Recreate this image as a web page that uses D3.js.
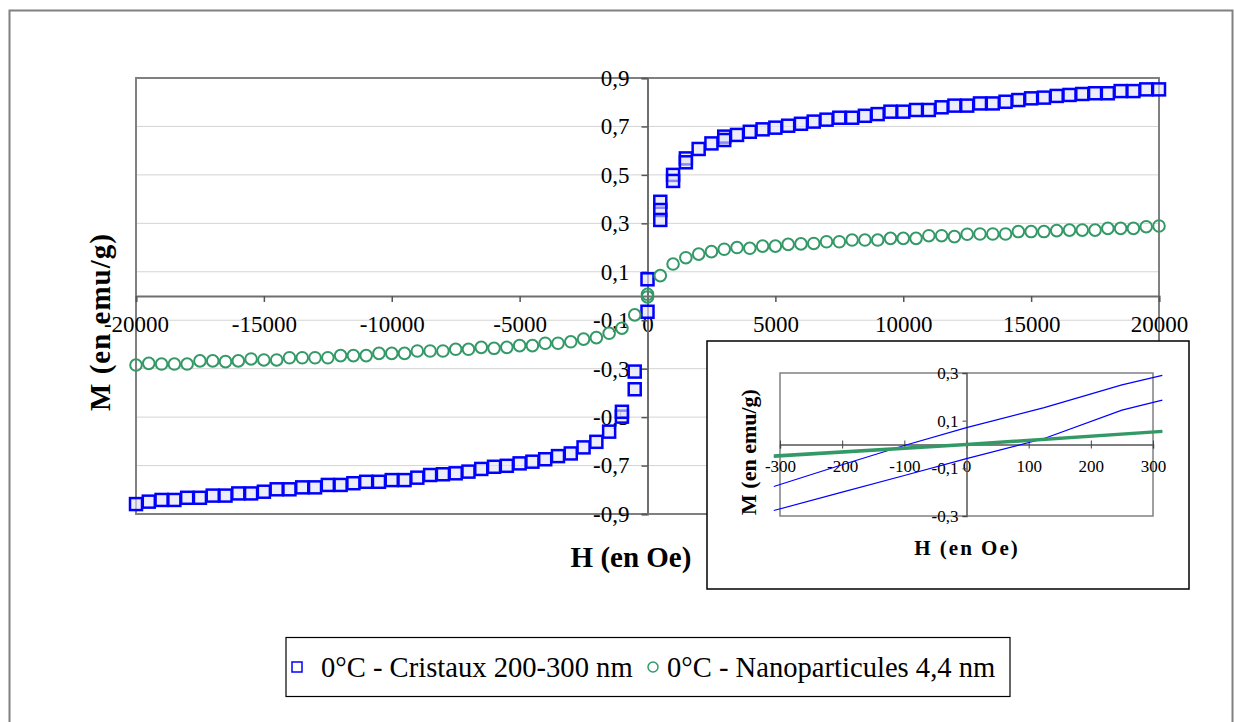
<!DOCTYPE html>
<html>
<head>
<meta charset="utf-8">
<script src="https://cdn.jsdelivr.net/npm/d3@7"></script>
<style>
  body { margin: 0; background: #fff; }
  svg text { font-family: "Liberation Serif", "Times New Roman", serif; fill: #000; }
</style>
</head>
<body>
<div id="chart"></div>
<script>
// champ H (Oe), valeurs positives; la branche negative utilise -H
var champ = [0, 500, 1000, 1500, 2000, 2500, 3000, 3500, 4000, 4500, 5000, 5500, 6000, 6500, 7000, 7500,
  8000, 8500, 9000, 9500, 10000, 10500, 11000, 11500, 12000, 12500, 13000, 13500, 14000, 14500, 15000,
  15500, 16000, 16500, 17000, 17500, 18000, 18500, 19000, 19500, 20000];

// 0°C - Cristaux 200-300 nm
var cristauxPlus = [0.069, 0.389, 0.50, 0.568, 0.607, 0.630, 0.658, 0.665, 0.678, 0.688, 0.695, 0.703, 0.711,
  0.720, 0.728, 0.736, 0.736, 0.744, 0.751, 0.761, 0.761, 0.768, 0.768, 0.779, 0.786, 0.786, 0.795, 0.795,
  0.802, 0.809, 0.816, 0.819, 0.826, 0.830, 0.834, 0.837, 0.837, 0.846, 0.846, 0.853, 0.853];
var cristauxMoins = [-0.065, -0.385, -0.498, -0.560, -0.602, -0.625, -0.650, -0.661, -0.674, -0.684, -0.691,
  -0.701, -0.705, -0.714, -0.725, -0.732, -0.736, -0.739, -0.750, -0.760, -0.760, -0.767, -0.767, -0.773,
  -0.780, -0.780, -0.790, -0.790, -0.798, -0.798, -0.808, -0.815, -0.815, -0.824, -0.824, -0.833, -0.833,
  -0.842, -0.842, -0.849, -0.859];
// points en plus pres de zero (autre branche du cycle)
var cristauxExtraH = [500, 500, 1000, 1500, 3000, -500, -1000];
var cristauxExtraM = [0.355, 0.314, 0.475, 0.552, 0.644, -0.312, -0.478];

// 0°C - Nanoparticules 4,4 nm
var nanoPlus = [0.007, 0.084, 0.132, 0.158, 0.173, 0.183, 0.193, 0.200, 0.197, 0.206, 0.206, 0.213, 0.215,
  0.217, 0.224, 0.224, 0.231, 0.231, 0.231, 0.238, 0.238, 0.238, 0.249, 0.249, 0.245, 0.255, 0.256, 0.256,
  0.256, 0.266, 0.266, 0.266, 0.270, 0.272, 0.272, 0.272, 0.279, 0.279, 0.279, 0.286, 0.289];
var nanoMoins = [-0.004, -0.078, -0.133, -0.154, -0.172, -0.178, -0.189, -0.195, -0.195, -0.205, -0.205,
  -0.212, -0.216, -0.212, -0.220, -0.220, -0.227, -0.227, -0.227, -0.237, -0.237, -0.237, -0.246, -0.246,
  -0.246, -0.255, -0.255, -0.255, -0.255, -0.264, -0.264, -0.260, -0.268, -0.271, -0.268, -0.268, -0.281,
  -0.281, -0.281, -0.278, -0.285];

// encart: zoom +-300 Oe
var encartH = [-310, -200, -100, 0, 125, 250, 315];
var encartCristauxHaut = [-0.176, -0.085, -0.004, 0.071, 0.155, 0.25, 0.29];
var encartCristauxBas = [-0.277, -0.20, -0.13, -0.059, 0.025, 0.144, 0.186];
var encartNanoH = [-310, 0, 315];
var encartNano1 = [-0.046, 0.003, 0.057];
var encartNano2 = [-0.052, -0.003, 0.053];

var xTicks = [-20000, -15000, -10000, -5000, 0, 5000, 10000, 15000, 20000];
var yTicks = [-0.9, -0.7, -0.5, -0.3, -0.1, 0.1, 0.3, 0.5, 0.7, 0.9];
var xTicksEncart = [-300, -200, -100, 0, 100, 200, 300];
var yTicksEncart = [-0.3, -0.1, 0.1, 0.3];

var legendLabels = ["0°C - Cristaux 200-300 nm", "0°C - Nanoparticules 4,4 nm"];

var blue = "#0000ff";
var green = "#339966";
var frGray = "#808080";
// tirets simples comme dans Excel (pas le signe moins unicode de d3)
function entier(v) { return String(v); }
function virgule(v) { return v.toFixed(1).replace(".", ","); }

function pairs(hs, ms, sign) {
  return hs.map(function(h, i) { return {h: sign * h, m: ms[i]}; });
}
var cristaux = pairs(champ, cristauxPlus, 1)
  .concat(pairs(champ, cristauxMoins, -1))
  .concat(pairs(cristauxExtraH, cristauxExtraM, 1));
var nano = pairs(champ, nanoPlus, 1).concat(pairs(champ, nanoMoins, -1));

var svg = d3.select("#chart").append("svg")
  .attr("width", 1234).attr("height", 722);

// cadre exterieur
svg.append("rect")
  .attr("x", 9.5).attr("y", 10.5).attr("width", 1223).attr("height", 720)
  .attr("fill", "#fff").attr("stroke", frGray).attr("stroke-width", 2);

// ---- graphique principal ----
var plot = {left: 136, top: 78, width: 1023, height: 436};
var x = d3.scaleLinear().domain([-20000, 20000]).range([plot.left, plot.left + plot.width]);
var y = d3.scaleLinear().domain([-0.9, 0.9]).range([plot.top + plot.height, plot.top]);

// grille
svg.append("g").selectAll("line")
  .data(yTicks.filter(function(d) { return Math.abs(d) < 0.85; }))
  .join("line")
  .attr("x1", plot.left).attr("x2", plot.left + plot.width)
  .attr("y1", function(d) { return y(d); }).attr("y2", function(d) { return y(d); })
  .attr("stroke", "#d4d4d4").attr("stroke-width", 1);

svg.append("rect")
  .attr("x", plot.left).attr("y", plot.top).attr("width", plot.width).attr("height", plot.height)
  .attr("fill", "none").attr("stroke", frGray).attr("stroke-width", 2);

// axe X (passe par M = 0)
var xAxis = svg.append("g")
  .attr("transform", "translate(0," + y(0) + ")")
  .call(d3.axisBottom(x).tickValues(xTicks).tickFormat(entier).tickSize(6).tickPadding(14));
// axe Y (passe par H = 0)
var yAxis = svg.append("g")
  .attr("transform", "translate(" + x(0) + ",0)")
  .call(d3.axisLeft(y).tickValues(yTicks).tickFormat(virgule).tickSize(6).tickPadding(12));

[xAxis, yAxis].forEach(function(a) {
  a.attr("font-family", null);
  a.select(".domain").attr("stroke", "#6f6f6f").attr("stroke-width", 2);
  a.selectAll(".tick line").attr("stroke", "#555").attr("stroke-width", 1.5);
  a.selectAll(".tick text").style("font-size", "23px").attr("fill", "#000");
});

// points
svg.append("g").selectAll("rect")
  .data(cristaux)
  .join("rect")
  .attr("x", function(d) { return x(d.h) - 6; })
  .attr("y", function(d) { return y(d.m) - 6; })
  .attr("width", 12).attr("height", 12)
  .attr("fill", "rgba(225,225,245,0.6)")
  .attr("stroke", blue).attr("stroke-width", 2.5);

svg.append("g").selectAll("circle")
  .data(nano)
  .join("circle")
  .attr("cx", function(d) { return x(d.h); })
  .attr("cy", function(d) { return y(d.m); })
  .attr("r", 5.8)
  .attr("fill", "none")
  .attr("stroke", green).attr("stroke-width", 2);

// titres des axes
svg.append("text")
  .attr("transform", "translate(110,322) rotate(-90)")
  .attr("text-anchor", "middle")
  .style("font-size", "29px").style("font-weight", "bold").style("letter-spacing", "1px")
  .text("M (en emu/g)");
svg.append("text")
  .attr("x", 631).attr("y", 567)
  .attr("text-anchor", "middle")
  .style("font-size", "29px").style("font-weight", "bold")
  .text("H (en Oe)");

// ---- encart ----
svg.append("rect")
  .attr("x", 707).attr("y", 341).attr("width", 482).attr("height", 248)
  .attr("fill", "#fff").attr("stroke", "#000").attr("stroke-width", 1.5);

var inset = {left: 780, top: 373, width: 373, height: 143};
var xi = d3.scaleLinear().domain([-300, 300]).range([inset.left, inset.left + inset.width]);
var yi = d3.scaleLinear().domain([-0.3, 0.3]).range([inset.top + inset.height, inset.top]);

svg.append("rect")
  .attr("x", inset.left).attr("y", inset.top).attr("width", inset.width).attr("height", inset.height)
  .attr("fill", "none").attr("stroke", frGray).attr("stroke-width", 1.5);

var xiAxis = svg.append("g")
  .attr("transform", "translate(0," + yi(0) + ")")
  .call(d3.axisBottom(xi).tickValues(xTicksEncart).tickFormat(entier).tickSize(4).tickPadding(11));
xiAxis.selectAll(".tick line").attr("y1", -4);
var yiAxis = svg.append("g")
  .attr("transform", "translate(" + xi(0) + ",0)")
  .call(d3.axisLeft(yi).tickValues(yTicksEncart).tickFormat(virgule).tickSize(4).tickPadding(4));

[xiAxis, yiAxis].forEach(function(a) {
  a.attr("font-family", null);
  a.select(".domain").attr("stroke", "#555").attr("stroke-width", 1.5);
  a.selectAll(".tick line").attr("stroke", "#444");
  a.selectAll(".tick text").style("font-size", "17px").attr("fill", "#000");
});

var lineI = d3.line()
  .x(function(d) { return xi(d.h); })
  .y(function(d) { return yi(d.m); });

[encartCristauxHaut, encartCristauxBas].forEach(function(ms) {
  svg.append("path")
    .datum(pairs(encartH, ms, 1))
    .attr("fill", "none").attr("stroke", blue).attr("stroke-width", 1.2)
    .attr("d", lineI);
});
[encartNano1, encartNano2].forEach(function(ms) {
  svg.append("path")
    .datum(pairs(encartNanoH, ms, 1))
    .attr("fill", "none").attr("stroke", green).attr("stroke-width", 2.2)
    .attr("d", lineI);
});

svg.append("text")
  .attr("transform", "translate(756,452) rotate(-90)")
  .attr("text-anchor", "middle")
  .style("font-size", "22px").style("font-weight", "bold")
  .text("M (en emu/g)");
svg.append("text")
  .attr("x", 967).attr("y", 555)
  .attr("text-anchor", "middle")
  .style("font-size", "21px").style("font-weight", "bold").style("letter-spacing", "2px")
  .text("H (en Oe)");

// ---- legende ----
svg.append("rect")
  .attr("x", 286).attr("y", 637.5).attr("width", 724).attr("height", 59)
  .attr("fill", "#fff").attr("stroke", "#000").attr("stroke-width", 1.2);

var leg = svg.append("g");
leg.append("rect")
  .attr("x", 292).attr("y", 662).attr("width", 10).attr("height", 10)
  .attr("fill", "none").attr("stroke", blue).attr("stroke-width", 1.5);
leg.append("text")
  .attr("x", 321).attr("y", 677)
  .style("font-size", "28.6px")
  .text(legendLabels[0]);
leg.append("circle")
  .attr("cx", 653).attr("cy", 667).attr("r", 5)
  .attr("fill", "none").attr("stroke", green).attr("stroke-width", 1.5);
leg.append("text")
  .attr("x", 667).attr("y", 677)
  .style("font-size", "28.6px")
  .text(legendLabels[1]);
</script>
</body>
</html>
